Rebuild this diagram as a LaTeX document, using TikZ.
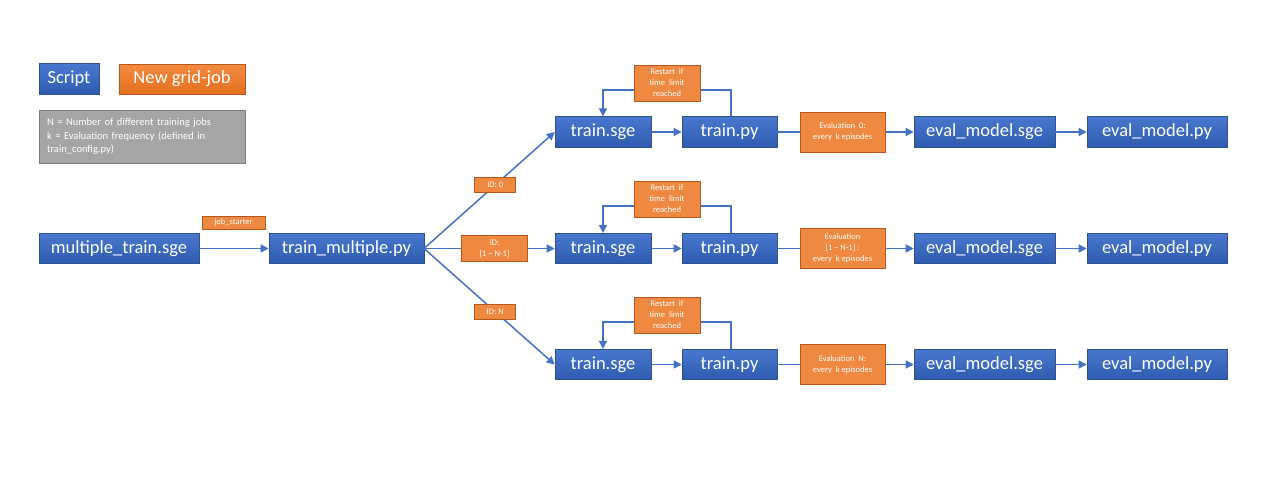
\documentclass[tikz,border=0pt]{standalone}
\usepackage{fontspec}
\setmainfont{Carlito}
\usetikzlibrary{arrows.meta,positioning}
\definecolor{bluetop}{HTML}{4878CE}
\definecolor{bluebot}{HTML}{2E5BAF}
\definecolor{blueedge}{HTML}{2F528F}
\definecolor{orgtop}{HTML}{F38A40}
\definecolor{orgbot}{HTML}{E56F1E}
\definecolor{orgfill}{HTML}{EF8840}
\definecolor{orgedge}{HTML}{B4581C}
\definecolor{grayfill}{HTML}{A5A5A5}
\definecolor{grayedge}{HTML}{7F7F7F}
\definecolor{linec}{HTML}{4472C4}
\tikzset{
  scriptbox/.style={draw=blueedge, line width=0.6pt, top color=bluetop, bottom color=bluebot, text=white,
    minimum height=30.5pt, inner sep=0pt, font=\fontsize{18.5}{22}\selectfont},
  jobbox/.style={draw=orgedge, line width=0.6pt, top color=orgtop, bottom color=orgbot, text=white,
    minimum height=30pt, inner sep=0pt, font=\fontsize{18.5}{22}\selectfont},
  tagbox/.style={draw=orgedge, line width=0.8pt, fill=orgfill, text=white, inner sep=0pt, align=center,
    font=\fontsize{8.5}{11}\selectfont},
  conn/.style={draw=linec, line width=1.5pt, -{Triangle[length=8pt,width=8pt]}},
}
\begin{document}
\begin{tikzpicture}[x=1pt,y=-1pt]
\useasboundingbox (0,0) rectangle (1280,482);
% legend
\node[scriptbox, minimum width=60pt] (leg1) at (69,79) {Script};
\node[jobbox, minimum width=126pt] (leg2) at (182,79) {New grid-job};
\node[draw=grayedge, line width=0.8pt, fill=grayfill, text=white, minimum width=206pt, minimum height=53pt,
  text width=190pt, align=left, inner sep=8pt, font=\fontsize{10.5}{13.5}\selectfont] (note) at (142,136.5)
  {N = Number of different training jobs\\k = Evaluation frequency (defined in\\train\_config.py)};
% main chain
\node[scriptbox, minimum width=160pt] (mts) at (119,248.5) {multiple\_train.sge};
\node[scriptbox, minimum width=155pt] (tmp) at (346.5,248.5) {train\_multiple.py};
\node[tagbox, minimum width=63pt, minimum height=13pt] (js) at (233.5,222.5) {job\_starter};
\draw[conn] (mts) -- (tmp);
\coordinate (fan) at (424,248.5);
% rows
\foreach \r/\y/\ly/\ev in {a/132/90/{Evaluation\ \ 0:\\every\ \ k episodes},
                             b/248.5/206/{Evaluation\\{[}1 -- N-1{]} :\\every\ \ k episodes},
                             c/364.5/322/{Evaluation\ \ N:\\every\ \ k episodes}}{
  \node[scriptbox, minimum width=96pt] (ts\r) at (603,\y) {train.sge};
  \node[scriptbox, minimum width=95pt] (tp\r) at (729.5,\y) {train.py};
  \node[scriptbox, minimum width=141pt] (es\r) at (984.5,\y) {eval\_model.sge};
  \node[scriptbox, minimum width=140pt] (ep\r) at (1157,\y) {eval\_model.py};
  \draw[conn] (ts\r) -- (tp\r);
  \draw[conn] (tp\r) -- (es\r) node[tagbox, pos=0.478, minimum width=85pt, minimum height=40pt] (ev\r) {\ev};
  \draw[conn] (es\r) -- (ep\r);
  \coordinate (lr\r) at (731,\ly);
  \coordinate (ll\r) at (603,\ly);
  \draw[conn] (tp\r.north -| lr\r) -- (lr\r) -- (ll\r) -- (ts\r.north);
  \node[tagbox, minimum width=66pt, minimum height=36pt] (rs\r) at (667,\ly-7) {Restart\ \ if\\time\ \ limit\\reached};
}
\draw[conn] (fan) -- (tsa.west) node[tagbox, pos=0.545, minimum width=41pt, minimum height=15pt] (ida) {ID: 0};
\draw[conn] (fan) -- (tsb.west) node[tagbox, pos=0.54, minimum width=66pt, minimum height=26pt] (idb) {ID:\\{[}1 -- N-1{]}};
\draw[conn] (fan) -- (tsc.west) node[tagbox, pos=0.545, minimum width=41pt, minimum height=15pt] (idc) {ID: N};
\end{tikzpicture}
\end{document}
